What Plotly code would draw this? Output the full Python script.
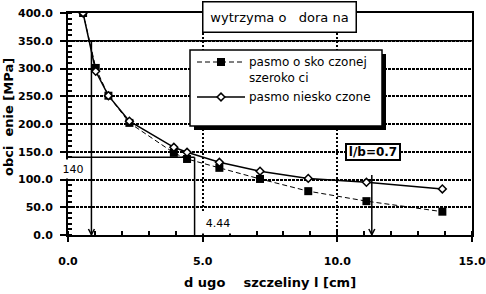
import plotly.graph_objects as go

# ---- data ----
crack_len = [0.56, 1.03, 1.50, 2.28, 3.93, 4.42, 5.62, 7.13, 8.92, 11.08, 13.90]
stress_finite = [400, 301, 251, 202, 148, 137, 121, 101, 79, 61, 42]
stress_infinite = [400, 295, 251, 205, 158, 149, 131, 115, 102, 95, 83]

x_ticks = [0, 5, 10, 15]
x_tick_labels = ["0.0", "5.0", "10.0", "15.0"]
y_ticks = [0, 50, 100, 150, 200, 250, 300, 350, 400]
y_tick_labels = ["0.0", "50.0", "100.0", "150.0", "200.0", "250.0", "300.0", "350.0", "400.0"]

# read-off construction lines
ref_stress = 140
ref_stress_label = "140"
ref_len_line = 4.7
ref_len_label = "4.44"
arrow1_x, arrow1_top = 0.87, 350
arrow2_x, arrow2_top = 11.28, 108
solid_grid_y = 350

name_finite = "pasmo o sko\u00a0czonej<br>szeroko\u00a0ci"
name_infinite = "pasmo niesko\u00a0czone"
title_text = "wytrzyma\u00a0o\u00a0\u00a0\u00a0dora\u00a0na"
ratio_text = "<b>l/b=0.7</b>"
x_title = "d\u00a0ugo\u00a0\u00a0\u00a0\u00a0szczeliny l [cm]"
y_title = "obci\u00a0\u00a0enie [MPa]"

# ---- geometry ----
W, H = 486, 294
L, R, T, B = 68, 14, 13, 59
PW, PH = W - L - R, H - T - B
XMAX, YMAX = 15, 400


def xp(px):
    return (px - L) / PW


def yp(py):
    return (H - B - py) / PH


def xd(px):
    return xp(px) * XMAX


def yd(py):
    return yp(py) * YMAX


FONT = "DejaVu Sans"
dash_finite = "5px,3px"

fig = go.Figure()
fig.add_trace(go.Scatter(
    x=crack_len, y=stress_finite, mode="lines+markers",
    line=dict(color="black", width=1, dash=dash_finite),
    marker=dict(symbol="square", size=8, color="black"),
    showlegend=False))
fig.add_trace(go.Scatter(
    x=crack_len, y=stress_infinite, mode="lines+markers",
    line=dict(color="black", width=1.5),
    marker=dict(symbol="diamond", size=6, color="white", line=dict(color="black", width=1.5)),
    showlegend=False))

# custom legend samples (overlay axes in plot-area fractions)
leg_x0, leg_x1, leg_xm = xp(197), xp(245), xp(221)
leg_y1, leg_y2 = yp(62), yp(97)
fig.add_trace(go.Scatter(x=[leg_x0, leg_x1], y=[leg_y1, leg_y1], mode="lines",
                         line=dict(color="black", width=1, dash=dash_finite),
                         xaxis="x2", yaxis="y2", showlegend=False, hoverinfo="skip"))
fig.add_trace(go.Scatter(x=[leg_xm], y=[leg_y1], mode="markers",
                         marker=dict(symbol="square", size=8, color="black"),
                         xaxis="x2", yaxis="y2", showlegend=False, hoverinfo="skip"))
fig.add_trace(go.Scatter(x=[leg_x0, leg_x1], y=[leg_y2, leg_y2], mode="lines",
                         line=dict(color="black", width=1.5),
                         xaxis="x2", yaxis="y2", showlegend=False, hoverinfo="skip"))
fig.add_trace(go.Scatter(x=[leg_xm], y=[leg_y2], mode="markers",
                         marker=dict(symbol="diamond", size=6, color="white",
                                     line=dict(color="black", width=1.5)),
                         xaxis="x2", yaxis="y2", showlegend=False, hoverinfo="skip"))

tickfont = dict(family=FONT, size=11, color="black", weight="bold")

fig.update_layout(
    width=W, height=H,
    margin=dict(l=L, r=R, t=T, b=B, pad=0, autoexpand=False),
    paper_bgcolor="white", plot_bgcolor="white",
    showlegend=False,
    xaxis=dict(range=[0, XMAX], tickvals=x_ticks, ticktext=x_tick_labels, automargin=False,
               showline=True, linewidth=2, linecolor="black", mirror=True,
               ticks="outside", ticklen=5, tickwidth=1.5, tickcolor="black",
               showgrid=True, gridcolor="black", gridwidth=1.5, griddash="2px,2px",
               zeroline=False, tickfont=tickfont, ticklabelstandoff=10,
               minor=dict(dtick=1, ticks="inside", ticklen=4, tickwidth=1.5,
                          tickcolor="black", showgrid=False)),
    yaxis=dict(range=[0, YMAX], tickvals=y_ticks, ticktext=y_tick_labels, automargin=False,
               showline=True, linewidth=2, linecolor="black", mirror=True,
               ticks="outside", ticklen=6, tickwidth=1.5, tickcolor="black",
               showgrid=True, gridcolor="black", gridwidth=1.5, griddash="3px,1px",
               zeroline=False, tickfont=tickfont, ticklabelstandoff=5,
               minor=dict(dtick=10, ticks="inside", ticklen=4, tickwidth=1.5,
                          tickcolor="black", showgrid=False)),
    xaxis2=dict(overlaying="x", range=[0, 1], visible=False, automargin=False),
    yaxis2=dict(overlaying="y", range=[0, 1], visible=False, automargin=False),
)

LN = dict(color="black", width=1.5)
shapes = [
    # solid grid line at 350
    dict(type="line", xref="x", yref="y", x0=0, x1=XMAX, y0=solid_grid_y, y1=solid_grid_y,
         line=LN, layer="between"),
    # legend shadow + box
    dict(type="rect", xref="x", yref="y", x0=xd(194), x1=xd(386), y0=yd(130), y1=yd(54),
         fillcolor="black", line=dict(width=0), layer="between"),
    dict(type="rect", xref="x", yref="y", x0=xd(190), x1=xd(382), y0=yd(126), y1=yd(50),
         fillcolor="white", line=LN, layer="between"),
    # read-off lines
    dict(type="line", xref="x", yref="y", x0=0, x1=ref_len_line, y0=ref_stress, y1=ref_stress,
         line=LN, layer="above"),
    dict(type="line", xref="x", yref="y", x0=ref_len_line, x1=ref_len_line, y0=0, y1=ref_stress,
         line=LN, layer="above"),
]
# arrows: vertical line + open "V" head
hx, hy = 3 / PW * XMAX, 6 / PH * YMAX
for ax_x, ax_top in [(arrow1_x, arrow1_top), (arrow2_x, arrow2_top)]:
    shapes.append(dict(type="line", xref="x", yref="y", x0=ax_x, x1=ax_x, y0=0, y1=ax_top,
                       line=LN, layer="above"))
    shapes.append(dict(type="path", xref="x", yref="y",
                       path=f"M {ax_x - hx},{hy} L {ax_x},{0.6} L {ax_x + hx},{hy}",
                       line=LN, layer="above"))
fig.update_layout(shapes=shapes)

C = dict(xanchor="center", yanchor="middle", showarrow=False, xref="paper", yref="paper")
ann = [
    dict(x=xp(73), y=yp(169), text=ref_stress_label,
         bgcolor="white", width=22, height=18, borderpad=0,
         font=dict(family=FONT, size=11, color="black"), **C),
    dict(x=xp(218), y=yp(222.5), text=ref_len_label,
         bgcolor="white", width=32, height=20, borderpad=0,
         font=dict(family=FONT, size=11, color="black"), **C),
    dict(x=xp(279.5), y=yp(17), text=title_text,
         bgcolor="white", bordercolor="black", borderwidth=1.5,
         width=152, height=29, borderpad=0,
         font=dict(family=FONT, size=13, color="black"), **C),
    dict(x=xp(373), y=yp(151.5), text=ratio_text,
         bgcolor="white", bordercolor="black", borderwidth=2,
         width=52, height=14, borderpad=0,
         font=dict(family=FONT, size=12, color="black"), **C),
    dict(x=xp(270), y=yp(282), text=x_title,
         font=dict(family=FONT, size=13, color="black", weight="bold"), **C),
    dict(x=xp(8), y=yp(117), text=y_title, textangle=-90,
         font=dict(family=FONT, size=13, color="black", weight="bold"), **C),
    dict(x=xp(247), y=yp(70), xref="paper", yref="paper", text=name_finite,
         showarrow=False, xanchor="left", yanchor="middle", align="left",
         font=dict(family=FONT, size=12, color="black")),
    dict(x=xp(247), y=yp(97), xref="paper", yref="paper", text=name_infinite,
         showarrow=False, xanchor="left", yanchor="middle", align="left",
         font=dict(family=FONT, size=12, color="black")),
]
fig.update_layout(annotations=ann)

fig.write_html("out.html")
